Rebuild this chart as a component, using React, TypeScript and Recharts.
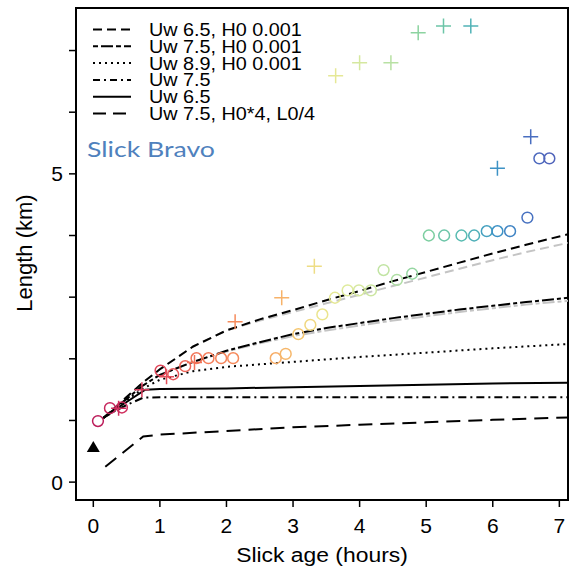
import {
  ComposedChart,
  Label,
  Legend,
  Line,
  ReferenceArea,
  Scatter,
  XAxis,
  YAxis,
} from "recharts"

const FONT = "'Liberation Sans', Arial, sans-serif"

const hourTicks = [0, 1, 2, 3, 4, 5, 6, 7]
const lengthTicks = [0, 1, 2, 3, 4, 5, 6, 7]
const labelledLengths = [0, 5]

// observed slick length, circles
const circleHours = [
  0.07, 0.25, 0.43, 1.01, 1.2, 1.38, 1.55, 1.73, 1.92, 2.1, 2.74, 2.89, 3.08,
  3.26, 3.44, 3.63, 3.82, 3.99, 4.17, 4.36, 4.56, 4.79, 5.04, 5.27, 5.53, 5.72,
  5.91, 6.07, 6.26, 6.52, 6.7, 6.85,
]
const circleLengths = [
  0.99, 1.2, 1.21, 1.81, 1.75, 1.88, 2.01, 2.01, 2.01, 2.01, 2.01, 2.08, 2.4,
  2.55, 2.72, 2.99, 3.11, 3.11, 3.11, 3.44, 3.28, 3.38, 4.0, 4.0, 4.0, 4.0,
  4.07, 4.07, 4.07, 4.29, 5.25, 5.25,
]

// observed slick length, crosses
const crossHours = [
  0.38, 0.73, 1.1, 1.52, 2.13, 2.83, 3.32, 3.64, 4.0, 4.47, 4.88, 5.26, 5.67,
  6.07, 6.57,
]
const crossLengths = [
  1.2, 1.5, 1.71, 1.94, 2.6, 2.99, 3.5, 6.59, 6.8, 6.8, 7.29, 7.4, 7.4, 5.09,
  5.6,
]

const startHours = [0]
const startLengths = [0.57]

// model runs
const uw65H0Hours = [0.15, 0.3, 0.5, 0.75, 1, 1.5, 2, 2.5, 3, 3.5, 4, 4.5, 5, 5.5, 6, 6.5, 7.13]
const uw65H0Lengths = [1.04, 1.18, 1.38, 1.62, 1.83, 2.2, 2.46, 2.64, 2.79, 2.95, 3.1, 3.26, 3.41, 3.56, 3.71, 3.85, 4.02]
const uw65H0GreyLengths = [1.04, 1.18, 1.38, 1.62, 1.83, 2.2, 2.46, 2.62, 2.76, 2.9, 3.04, 3.18, 3.32, 3.46, 3.6, 3.73, 3.88]

const uw75H0Hours = [0.15, 0.3, 0.5, 0.75, 1, 1.5, 2, 2.5, 3, 3.5, 4, 4.5, 5, 5.5, 6, 6.5, 7.13]
const uw75H0Lengths = [1.04, 1.17, 1.35, 1.57, 1.74, 1.95, 2.13, 2.27, 2.4, 2.5, 2.58, 2.66, 2.73, 2.8, 2.86, 2.92, 2.99]
const uw75H0GreyLengths = [1.04, 1.17, 1.35, 1.57, 1.74, 1.95, 2.12, 2.25, 2.37, 2.46, 2.54, 2.62, 2.69, 2.76, 2.82, 2.88, 2.94]

const uw89H0Hours = [0.15, 0.3, 0.5, 0.75, 1, 1.5, 2, 2.5, 3, 4, 5, 6, 7.13]
const uw89H0Lengths = [1.04, 1.17, 1.33, 1.52, 1.66, 1.8, 1.87, 1.91, 1.95, 2.03, 2.1, 2.17, 2.24]

const uw75Hours = [0.15, 0.3, 0.5, 0.75, 1, 2, 3, 4, 5, 6, 7.13]
const uw75Lengths = [1.04, 1.14, 1.25, 1.37, 1.375, 1.375, 1.375, 1.375, 1.375, 1.375, 1.375]

const uw65Hours = [0.15, 0.3, 0.5, 0.78, 1, 2, 3, 4, 5, 6, 7.13]
const uw65Lengths = [1.04, 1.16, 1.3, 1.5, 1.51, 1.52, 1.54, 1.56, 1.58, 1.6, 1.61]

const uw75SmallHours = [0.18, 0.75, 1, 2, 3, 4, 5, 6, 7.13]
const uw75SmallLengths = [0.25, 0.74, 0.77, 0.83, 0.89, 0.93, 0.97, 1.01, 1.05]

const zip = (xs: number[], ys: number[]) => xs.map((t, i) => ({ t, y: ys[i] }))

// colour of markers by slick age
const agePalette: [number, string][] = [
  [0, "#b8195a"],
  [0.4, "#cf2e5e"],
  [1.0, "#e0465a"],
  [1.6, "#f47a5a"],
  [2.1, "#f68a5c"],
  [2.8, "#f7b068"],
  [3.1, "#f5c870"],
  [3.4, "#ece48c"],
  [3.8, "#e0eb9c"],
  [4.4, "#bfe3a4"],
  [5.0, "#7fcf9f"],
  [5.6, "#54b9b4"],
  [6.1, "#3c90c6"],
  [6.6, "#4a6cc0"],
  [7.0, "#5560b8"],
]

function ageColour(t: number) {
  const hex = (c: string) => [1, 3, 5].map((i) => parseInt(c.slice(i, i + 2), 16))
  for (let i = 1; i < agePalette.length; i++) {
    const [t1, c1] = agePalette[i]
    if (t <= t1) {
      const [t0, c0] = agePalette[i - 1]
      const f = Math.max(0, (t - t0) / (t1 - t0))
      const a = hex(c0)
      const b = hex(c1)
      return `rgb(${a.map((v, k) => Math.round(v + (b[k] - v) * f)).join(",")})`
    }
  }
  return agePalette[agePalette.length - 1][1]
}

const CircleMark = (props: any) => {
  const { cx, cy, payload } = props
  return <circle cx={cx} cy={cy} r={5.4} fill="none" stroke={ageColour(payload.t)} strokeWidth={1.5} />
}

const CrossMark = (props: any) => {
  const { cx, cy, payload } = props
  return (
    <path
      d={`M${cx - 7.5},${cy}H${cx + 7.5}M${cx},${cy - 7.5}V${cy + 7.5}`}
      stroke={ageColour(payload.t)}
      strokeWidth={1.5}
      fill="none"
    />
  )
}

const TriangleMark = (props: any) => {
  const { cx, cy } = props
  return <path d={`M${cx - 6.5},${cy + 5}L${cx + 6.5},${cy + 5}L${cx},${cy - 6}Z`} fill="#000" />
}

const legendRows = [
  { label: "Uw 6.5, H0 0.001", dash: "9 5" },
  { label: "Uw 7.5, H0 0.001", dash: "5 3 12 3" },
  { label: "Uw 8.9, H0 0.001", dash: "2 4" },
  { label: "Uw 7.5", dash: "7 4 2 4" },
  { label: "Uw 6.5", dash: undefined },
  { label: "Uw 7.5, H0*4, L0/4", dash: "13 7" },
]

function ModelLegend() {
  return (
    <svg width={570} height={180} style={{ display: "block" }}>
      {legendRows.map((row, i) => {
        const base = 36 + i * 16.8
        return (
          <g key={row.label}>
            <line x1={93} x2={131} y1={base - 6.5} y2={base - 6.5} stroke="#000" strokeWidth={2} strokeDasharray={row.dash} />
            <text transform={`translate(149 ${base}) scale(1.1 1)`} fontSize={18} fontFamily={FONT} fill="#000">
              {row.label}
            </text>
          </g>
        )
      })}
      <text x={87} y={157} fontSize={22} fontFamily="Lato, 'Open Sans', sans-serif" fill="#4f81bd" textLength={128} lengthAdjust="spacingAndGlyphs">
        Slick Bravo
      </text>
    </svg>
  )
}

const XTitle = () => (
  <text transform="translate(322 562) scale(1.09 1)" textAnchor="middle" fontSize={21} fontFamily={FONT} fill="#000">
    Slick age (hours)
  </text>
)

const YTitle = () => (
  <text transform="translate(32 253) rotate(-90)" textAnchor="middle" fontSize={22} fontFamily={FONT} fill="#000">
    Length (km)
  </text>
)

const modelLine = (key: string, data: { t: number; y: number }[], dash: string | undefined, stroke = "#000") => (
  <Line
    key={key}
    data={data}
    dataKey="y"
    type="linear"
    stroke={stroke}
    strokeWidth={2}
    strokeDasharray={dash}
    dot={false}
    activeDot={false}
    isAnimationActive={false}
  />
)

export default function App() {
  return (
    <div style={{ position: "absolute", left: 0, top: 0, width: 570, height: 571, background: "#fff" }}>
      <ComposedChart width={570} height={571} margin={{ top: 8, right: 2, bottom: 0, left: 0 }}>
        <XAxis
          type="number"
          dataKey="t"
          domain={[-0.26, 7.13]}
          ticks={hourTicks}
          allowDataOverflow
          height={71}
          axisLine={false}
          tickSize={7}
          tickMargin={11}
          tickLine={{ stroke: "#000", strokeWidth: 1.5 }}
          tick={{ fontSize: 21, fill: "#000", fontFamily: FONT }}
        >
          <Label content={XTitle} />
        </XAxis>
        <YAxis
          type="number"
          dataKey="y"
          domain={[-0.29, 7.69]}
          ticks={lengthTicks}
          allowDataOverflow
          width={76}
          axisLine={false}
          tickSize={7}
          tickMargin={6}
          tickLine={{ stroke: "#000", strokeWidth: 1.5 }}
          tick={{ fontSize: 21, fill: "#000", fontFamily: FONT }}
          tickFormatter={(v: number) => (labelledLengths.includes(v) ? String(v) : "")}
        >
          <Label content={YTitle} />
        </YAxis>

        {modelLine("g1", zip(uw65H0Hours, uw65H0GreyLengths), "9 5", "#c4c4c4")}
        {modelLine("g2", zip(uw75H0Hours, uw75H0GreyLengths), "12 3 4 3", "#c4c4c4")}
        {modelLine("m1", zip(uw65H0Hours, uw65H0Lengths), "9 5")}
        {modelLine("m2", zip(uw75H0Hours, uw75H0Lengths), "12 3 4 3")}
        {modelLine("m3", zip(uw89H0Hours, uw89H0Lengths), "2 4")}
        {modelLine("m4", zip(uw75Hours, uw75Lengths), "8 4 2 4")}
        {modelLine("m5", zip(uw65Hours, uw65Lengths), undefined)}
        {modelLine("m6", zip(uw75SmallHours, uw75SmallLengths), "14 8")}

        <Scatter data={zip(circleHours, circleLengths)} shape={CircleMark} isAnimationActive={false} />
        <Scatter data={zip(crossHours, crossLengths)} shape={CrossMark} isAnimationActive={false} />
        <Scatter data={zip(startHours, startLengths)} shape={TriangleMark} isAnimationActive={false} />

        <ReferenceArea
          x1={-0.26}
          x2={7.13}
          y1={-0.29}
          y2={7.69}
          fill="none"
          fillOpacity={0}
          stroke="#000"
          strokeWidth={2}
          ifOverflow="visible"
        />
        <Legend
          content={() => <ModelLegend />}
          layout="horizontal"
          verticalAlign="middle"
          align="center"
          wrapperStyle={{ left: 0, top: 0, width: 570, height: 180, pointerEvents: "none" }}
        />
      </ComposedChart>
    </div>
  )
}
